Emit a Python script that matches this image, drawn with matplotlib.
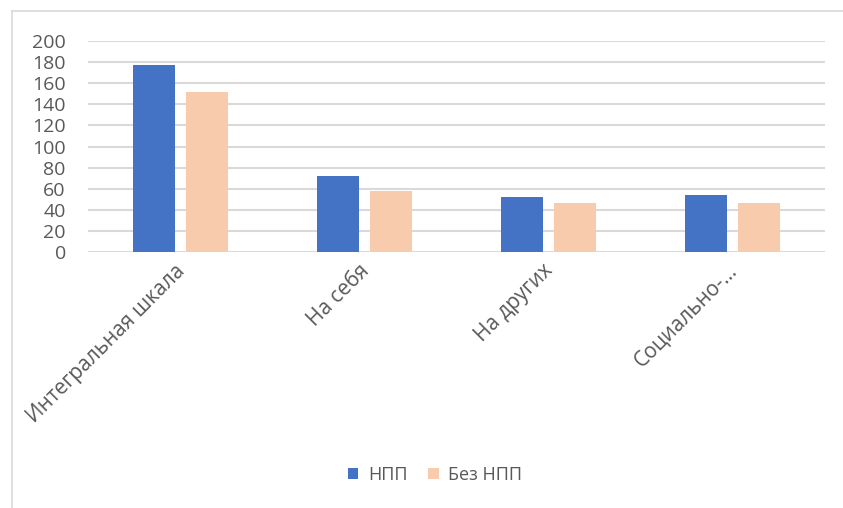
import matplotlib
matplotlib.use("Agg")
import matplotlib.pyplot as plt
import matplotlib.transforms as mtransforms
import numpy as np
from matplotlib.lines import Line2D

# данные
categories = ["Интегральная шкала", "На себя", "На других", "Социально-..."]
npp = [177, 72, 52, 54]
bez_npp = [152, 58, 46.5, 46]
series_names = ["НПП", "Без НПП"]
yticks = [0, 20, 40, 60, 80, 100, 120, 140, 160, 180, 200]

BLUE = "#4472C4"
PEACH = "#F8CBAD"
GRID = "#D9D9D9"
TEXT = "#595959"

plt.rcParams["font.family"] = ["Open Sans", "DejaVu Sans"]

fig = plt.figure(figsize=(8.43, 5.08), dpi=100)
ax = fig.add_axes([88 / 843, 1 - 252 / 508, (825 - 88) / 843, (252 - 41) / 508])

x = np.arange(len(categories))
w = 0.228
off = 0.144
ax.bar(x - off, npp, w, color=BLUE, label=series_names[0], zorder=3)
ax.bar(x + off, bez_npp, w, color=PEACH, label=series_names[1], zorder=3)

ax.set_xlim(-0.5, len(categories) - 0.5)
ax.set_ylim(0, 200)
ax.set_yticks(yticks)
ax.yaxis.grid(True, color=GRID, linewidth=1.5, zorder=0)
for s in ax.spines.values():
    s.set_visible(False)
ax.tick_params(axis="both", length=0, labelsize=14, labelcolor=TEXT)
ax.tick_params(axis="y", pad=16)

ax.set_xticks(x)
ax.set_xticklabels(categories, rotation=45, ha="right", va="top", fontsize=15)
ax.tick_params(axis="x", pad=6)
# подписи в Excel чуть правее центра категории
shift = mtransforms.ScaledTranslation(9 / 100, 0, fig.dpi_scale_trans)
for t in ax.get_xticklabels():
    t.set_transform(t.get_transform() + shift)

# рамка области диаграммы (видны верх и левый край)
fig.add_artist(Line2D([12 / 843, 1], [1 - 11 / 508, 1 - 11 / 508],
                      transform=fig.transFigure, color=GRID, linewidth=1.2))
fig.add_artist(Line2D([12 / 843, 12 / 843], [0, 1 - 11 / 508],
                      transform=fig.transFigure, color=GRID, linewidth=1.2))

fig.legend(loc="center", bbox_to_anchor=(435 / 843, 1 - 475 / 508), ncol=2,
           frameon=False, fontsize=13, labelcolor=TEXT, handlelength=0.6,
           handleheight=0.6, handletextpad=0.55, columnspacing=1.1)

fig.savefig("out.png", dpi=100)
